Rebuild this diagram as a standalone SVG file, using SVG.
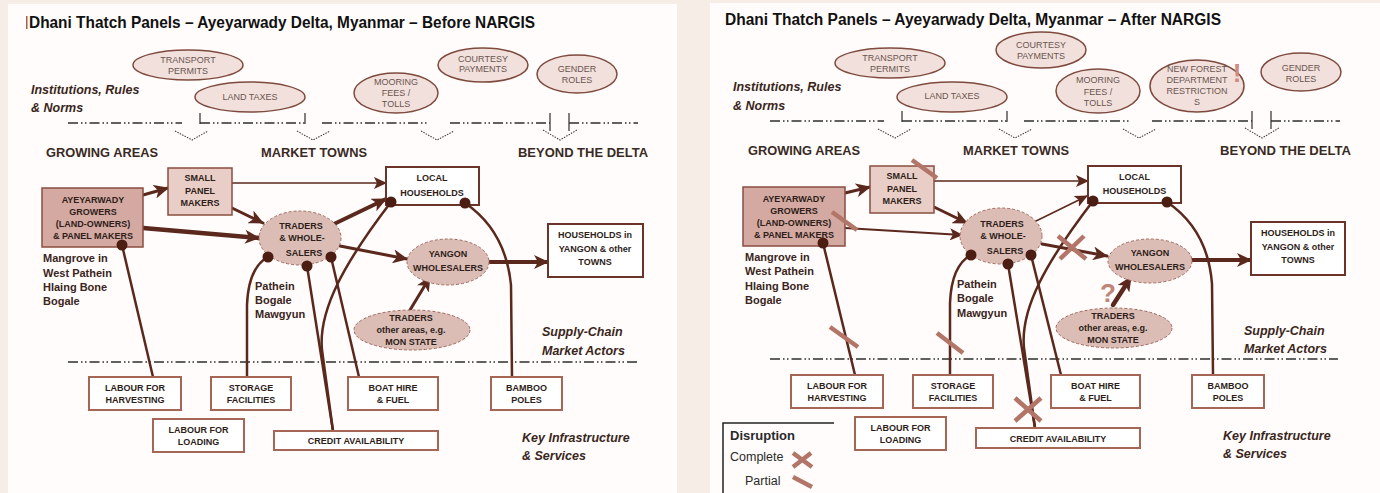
<svg xmlns="http://www.w3.org/2000/svg" width="1380" height="493" viewBox="0 0 1380 493">
<defs>
<style>
text{font-family:"Liberation Sans",Arial,sans-serif}
.ti{font-weight:bold;fill:#111}
.nt{font-size:9px;font-weight:bold;fill:#2e1d18;text-anchor:middle}
.it{font-size:9px;fill:#6a5650;text-anchor:middle}
.hd{font-size:12.5px;font-weight:bold;fill:#3a2a24}
.lb{font-size:12.5px;font-weight:bold;font-style:italic;fill:#3a2620}
.pl{font-size:11px;font-weight:bold;fill:#3a2520}
.ln{stroke:#5a281c;fill:none;stroke-linecap:round}
.dd{stroke:#2e2e2e;stroke-width:1.3;fill:none;stroke-dasharray:10 3 1.5 2.5 1.5 3}
.vt{stroke:#2e2e2e;stroke-width:1.2;fill:none}
.vh{stroke:#444;stroke-width:1.1;fill:none;stroke-dasharray:1.5 1.2}
.bx{fill:#fff;stroke:#a56656;stroke-width:2}
.bk{fill:#fff;stroke:#6b3428;stroke-width:2}
.ie{fill:#f2e0dc;stroke:#7e4a3e;stroke-width:1.5}
.de{fill:#dcbdb6;stroke:#a0695d;stroke-width:1;stroke-dasharray:3 2}
.dot{fill:#4b1d13}
.dm{stroke:#b27567;stroke-width:4.5;fill:none}
</style>
<marker id="ah" markerUnits="userSpaceOnUse" markerWidth="16" markerHeight="14" refX="14" refY="7" orient="auto"><path d="M0,0 L15,7 L0,14 L4,7 z" fill="#5a281c"/></marker>
<marker id="ahs" markerUnits="userSpaceOnUse" markerWidth="14" markerHeight="12" refX="12" refY="6" orient="auto"><path d="M0,0 L13,6 L0,12 L3,6 z" fill="#5a281c"/></marker>
</defs>
<rect x="0" y="0" width="1380" height="493" fill="#f6ede6"/>
<rect x="8" y="4" width="669" height="489" fill="#fffcfb"/>
<rect x="710" y="3" width="670" height="490" fill="#fffcfb"/>

<!-- LEFT PANEL -->
<g id="L-title">
<rect x="26" y="16" width="1.5" height="13" fill="#a0604f"/>
<text class="ti" x="29" y="28" font-size="17" textLength="506" lengthAdjust="spacingAndGlyphs">Dhani Thatch Panels – Ayeyarwady Delta, Myanmar – Before NARGIS</text>
</g>
<g id="L-labels">
<text class="lb" x="31" y="94">Institutions, Rules</text>
<text class="lb" x="31" y="112">&amp; Norms</text>
<text class="hd" x="46" y="157" textLength="112" lengthAdjust="spacingAndGlyphs">GROWING AREAS</text>
<text class="hd" x="261" y="157" textLength="106" lengthAdjust="spacingAndGlyphs">MARKET TOWNS</text>
<text class="hd" x="518" y="157" textLength="130" lengthAdjust="spacingAndGlyphs">BEYOND THE DELTA</text>
<text class="pl" x="43" y="262">Mangrove in</text>
<text class="pl" x="43" y="277">West Pathein</text>
<text class="pl" x="43" y="291">Hlaing Bone</text>
<text class="pl" x="43" y="305">Bogale</text>
<text class="pl" x="255" y="290">Pathein</text>
<text class="pl" x="255" y="304">Bogale</text>
<text class="pl" x="255" y="318">Mawgyun</text>
<text class="lb" x="542" y="336">Supply-Chain</text>
<text class="lb" x="542" y="355">Market Actors</text>
<text class="lb" x="522" y="442">Key Infrastructure</text>
<text class="lb" x="522" y="460">&amp; Services</text>
</g>
<g id="L-dividers">
<path class="dd" d="M68,123 H182 M200,123 H305 M322,123 H427 M450,123 H550 M569,123 H638"/>
<path class="vt" d="M200,113 V124 M305,113 V124 M550,113 V131 M569,113 V131"/>
<path class="vh" d="M175,131 L192,140 L208,131 M297,131 L313,140 L330,131 M421,131 L437,140 L454,131 M543,130 L560,140 L577,130"/>
<path class="dd" d="M68,362 H638"/>
</g>
<g id="L-transport"><ellipse class="ie" cx="188" cy="65" rx="55" ry="15"/><text class="it" x="188" y="63">TRANSPORT</text><text class="it" x="188" y="74">PERMITS</text></g>
<g id="L-landtaxes"><ellipse class="ie" cx="250" cy="97" rx="55" ry="15"/><text class="it" x="250" y="100">LAND TAXES</text></g>
<g id="L-mooring"><ellipse class="ie" cx="396" cy="93" rx="42" ry="20"/><text class="it" x="396" y="85">MOORING</text><text class="it" x="396" y="96">FEES /</text><text class="it" x="396" y="107">TOLLS</text></g>
<g id="L-courtesy"><ellipse class="ie" cx="483" cy="65" rx="45" ry="17"/><text class="it" x="483" y="62">COURTESY</text><text class="it" x="483" y="72">PAYMENTS</text></g>
<g id="L-gender"><ellipse class="ie" cx="577" cy="74" rx="40" ry="19"/><text class="it" x="577" y="72">GENDER</text><text class="it" x="577" y="83">ROLES</text></g>

<g id="L-connectors">
<path class="ln" stroke-width="3" d="M143,195 L168,188" marker-end="url(#ah)"/>
<path class="ln" stroke-width="4.5" d="M143,228 L259,238" marker-end="url(#ah)"/>
<path class="ln" stroke-width="3" d="M232,208 L263,223" marker-end="url(#ah)"/>
<path class="ln" stroke-width="1.3" d="M232,183 L386,183" marker-end="url(#ahs)"/>
<path class="ln" stroke-width="4" d="M334,224 L386,199" marker-end="url(#ah)"/>
<path class="ln" stroke-width="3" d="M340,246 L407,259" marker-end="url(#ah)"/>
<path class="ln" stroke-width="4" d="M490,262 L548,262" marker-end="url(#ah)"/>
<path class="ln" stroke-width="3" d="M410,310 L430,277" marker-end="url(#ah)"/>
<path class="ln" stroke-width="2.5" d="M122,245 L153,377"/>
<path class="ln" stroke-width="2.5" d="M268,257 C255,264 248,280 247,305 L247,377"/>
<path class="ln" stroke-width="2.5" d="M307,266 L333,431"/>
<path class="ln" stroke-width="2.5" d="M391,202 C345,262 318,310 322,350 L333,431"/>
<path class="ln" stroke-width="2.5" d="M331,257 L359,377"/>
<path class="ln" stroke-width="2.5" d="M465,203 C490,220 507,245 511,285 L512,377"/>
</g>

<g id="L-growers"><rect x="42" y="188" width="101" height="59" fill="#d3a9a1" stroke="#8a4e40" stroke-width="1.5"/>
<text class="nt" x="93" y="203">AYEYARWADY</text><text class="nt" x="93" y="215">GROWERS</text><text class="nt" x="93" y="227">(LAND-OWNERS)</text><text class="nt" x="93" y="239">&amp; PANEL MAKERS</text></g>
<g id="L-smallpanel"><rect x="168" y="168" width="64" height="47" fill="#e9cdc7" stroke="#8a4e40" stroke-width="1.5"/>
<text class="nt" x="200" y="181">SMALL</text><text class="nt" x="200" y="194">PANEL</text><text class="nt" x="200" y="206">MAKERS</text></g>
<g id="L-traders"><ellipse class="de" cx="300" cy="238" rx="41" ry="27"/>
<text class="nt" x="301" y="229">TRADERS</text><text class="nt" x="302" y="241">&amp; WHOLE-</text><text class="nt" x="304" y="256">SALERS</text></g>
<g id="L-localhh"><rect class="bk" x="386" y="167" width="93" height="38"/>
<text class="nt" x="432" y="181">LOCAL</text><text class="nt" x="432" y="196">HOUSEHOLDS</text></g>
<g id="L-yangon"><ellipse class="de" cx="448" cy="262" rx="41" ry="23"/>
<text class="nt" x="448" y="257">YANGON</text><text class="nt" x="448" y="271">WHOLESALERS</text></g>
<g id="L-hhyangon"><rect class="bk" x="548" y="224" width="95" height="53"/>
<text class="nt" x="595" y="238">HOUSEHOLDS in</text><text class="nt" x="595" y="252">YANGON &amp; other</text><text class="nt" x="595" y="265">TOWNS</text></g>
<g id="L-tradersother"><ellipse class="de" cx="412" cy="330" rx="58" ry="20" fill="#e0c4be"/>
<text class="nt" x="411" y="321">TRADERS</text><text class="nt" x="411" y="333">other areas, e.g.</text><text class="nt" x="411" y="345">MON STATE</text></g>
<g id="L-dots">
<circle class="dot" cx="122" cy="245" r="5.5"/><circle class="dot" cx="268" cy="257" r="5.5"/><circle class="dot" cx="307" cy="266" r="5.5"/><circle class="dot" cx="331" cy="257" r="5.5"/><circle class="dot" cx="391" cy="202" r="5.5"/><circle class="dot" cx="465" cy="203" r="5.5"/>
</g>
<g id="L-harvest"><rect class="bx" x="89" y="377" width="92" height="33"/><text class="nt" x="135" y="391">LABOUR FOR</text><text class="nt" x="135" y="403">HARVESTING</text></g>
<g id="L-storage"><rect class="bx" x="211" y="377" width="80" height="33"/><text class="nt" x="251" y="391">STORAGE</text><text class="nt" x="251" y="403">FACILITIES</text></g>
<g id="L-loading"><rect class="bx" x="153" y="419" width="91" height="33"/><text class="nt" x="198.5" y="433">LABOUR FOR</text><text class="nt" x="198.5" y="445">LOADING</text></g>
<g id="L-credit"><rect class="bx" x="274" y="431" width="164" height="19"/><text class="nt" x="356" y="444">CREDIT AVAILABILITY</text></g>
<g id="L-boat"><rect class="bx" x="348" y="377" width="90" height="33"/><text class="nt" x="393" y="391">BOAT HIRE</text><text class="nt" x="393" y="403">&amp; FUEL</text></g>
<g id="L-bamboo"><rect class="bx" x="491" y="377" width="71" height="33"/><text class="nt" x="526.5" y="391">BAMBOO</text><text class="nt" x="526.5" y="403">POLES</text></g>

<!-- RIGHT PANEL -->
<g id="R-title">
<text class="ti" x="725" y="25" font-size="16" textLength="496" lengthAdjust="spacingAndGlyphs">Dhani Thatch Panels – Ayeyarwady Delta, Myanmar – After NARGIS</text>
</g>
<g id="R-labels">
<text class="lb" x="733" y="91">Institutions, Rules</text>
<text class="lb" x="733" y="110">&amp; Norms</text>
<text class="hd" x="748" y="155" textLength="112" lengthAdjust="spacingAndGlyphs">GROWING AREAS</text>
<text class="hd" x="963" y="155" textLength="106" lengthAdjust="spacingAndGlyphs">MARKET TOWNS</text>
<text class="hd" x="1220" y="155" textLength="131" lengthAdjust="spacingAndGlyphs">BEYOND THE DELTA</text>
<text class="pl" x="745" y="261">Mangrove in</text>
<text class="pl" x="745" y="275">West Pathein</text>
<text class="pl" x="745" y="290">Hlaing Bone</text>
<text class="pl" x="745" y="304">Bogale</text>
<text class="pl" x="957" y="288">Pathein</text>
<text class="pl" x="957" y="302">Bogale</text>
<text class="pl" x="957" y="317">Mawgyun</text>
<text class="lb" x="1244" y="335">Supply-Chain</text>
<text class="lb" x="1244" y="353">Market Actors</text>
<text class="lb" x="1223" y="440">Key Infrastructure</text>
<text class="lb" x="1223" y="458">&amp; Services</text>
</g>
<g id="R-dividers">
<path class="dd" d="M770,121 H884 M902,121 H1007 M1024,121 H1129 M1152,121 H1252 M1271,121 H1340"/>
<path class="vt" d="M902,111 V122 M1007,111 V122 M1252,111 V129 M1271,111 V129"/>
<path class="vh" d="M878,129 L895,138 L911,129 M999,129 L1015,138 L1032,129 M1123,129 L1139,138 L1156,129 M1245,128 L1262,138 L1279,128"/>
<path class="dd" d="M770,359 H1338"/>
</g>
<g id="R-transport"><ellipse class="ie" cx="890" cy="63" rx="55" ry="15"/><text class="it" x="890" y="61">TRANSPORT</text><text class="it" x="890" y="72">PERMITS</text></g>
<g id="R-landtaxes"><ellipse class="ie" cx="952" cy="97" rx="55" ry="15"/><text class="it" x="952" y="99">LAND TAXES</text></g>
<g id="R-courtesy"><ellipse class="ie" cx="1041" cy="50" rx="45" ry="18"/><text class="it" x="1041" y="48">COURTESY</text><text class="it" x="1041" y="59">PAYMENTS</text></g>
<g id="R-mooring"><ellipse class="ie" cx="1098" cy="91" rx="42" ry="22"/><text class="it" x="1098" y="83">MOORING</text><text class="it" x="1098" y="95">FEES /</text><text class="it" x="1098" y="106">TOLLS</text></g>
<g id="R-forest"><ellipse class="ie" cx="1197" cy="86" rx="47" ry="26"/><text class="it" x="1197" y="72">NEW FOREST</text><text class="it" x="1197" y="83">DEPARTMENT</text><text class="it" x="1197" y="94">RESTRICTION</text><text class="it" x="1197" y="105">S</text>
<text x="1237" y="82" font-size="26" font-weight="bold" fill="#d08a80" text-anchor="middle">!</text></g>
<g id="R-gender"><ellipse class="ie" cx="1301" cy="72" rx="40" ry="19"/><text class="it" x="1301" y="71">GENDER</text><text class="it" x="1301" y="82">ROLES</text></g>

<g id="R-connectors">
<path class="ln" stroke-width="3" d="M845,193 L870,187" marker-end="url(#ah)"/>
<path class="ln" stroke-width="2" d="M845,228 L962,235" marker-end="url(#ahs)"/>
<path class="ln" stroke-width="3" d="M934,207 L967,223" marker-end="url(#ah)"/>
<path class="ln" stroke-width="1.3" d="M934,181 L1088,181" marker-end="url(#ahs)"/>
<path class="ln" stroke-width="1.5" d="M1034,222 L1087,196" marker-end="url(#ahs)"/>
<path class="ln" stroke-width="3" d="M1042,244 L1107,256" marker-end="url(#ah)"/>
<path class="ln" stroke-width="4" d="M1192,260 L1251,260" marker-end="url(#ah)"/>
<path class="ln" stroke-width="4.5" d="M1113,305 L1131,277" marker-end="url(#ah)"/>
<path class="ln" stroke-width="2.5" d="M823,243 L855,375"/>
<path class="ln" stroke-width="2.5" d="M971,255 C958,262 951,278 950,303 L950,375"/>
<path class="ln" stroke-width="2.5" d="M1008,264 L1035,428"/>
<path class="ln" stroke-width="2.5" d="M1093,201 C1047,261 1020,308 1024,348 L1035,428"/>
<path class="ln" stroke-width="2.5" d="M1031,255 L1061,375"/>
<path class="ln" stroke-width="2.5" d="M1167,202 C1192,219 1209,244 1212,284 L1213,375"/>
</g>

<g id="R-growers"><rect x="743" y="187" width="102" height="59" fill="#d3a9a1" stroke="#8a4e40" stroke-width="1.5"/>
<text class="nt" x="794" y="202">AYEYARWADY</text><text class="nt" x="794" y="214">GROWERS</text><text class="nt" x="794" y="226">(LAND-OWNERS)</text><text class="nt" x="794" y="238">&amp; PANEL MAKERS</text></g>
<g id="R-smallpanel"><rect x="870" y="166" width="64" height="47" fill="#e9cdc7" stroke="#8a4e40" stroke-width="1.5"/>
<text class="nt" x="902" y="179">SMALL</text><text class="nt" x="902" y="192">PANEL</text><text class="nt" x="902" y="204">MAKERS</text></g>
<g id="R-traders"><ellipse class="de" cx="1001" cy="236" rx="41" ry="28"/>
<text class="nt" x="1002" y="227">TRADERS</text><text class="nt" x="1003" y="239">&amp; WHOLE-</text><text class="nt" x="1005" y="254">SALERS</text></g>
<g id="R-localhh"><rect class="bk" x="1088" y="166" width="93" height="37"/>
<text class="nt" x="1134.5" y="180">LOCAL</text><text class="nt" x="1134.5" y="194">HOUSEHOLDS</text></g>
<g id="R-yangon"><ellipse class="de" cx="1150" cy="261" rx="42" ry="22"/>
<text class="nt" x="1150" y="256">YANGON</text><text class="nt" x="1150" y="270">WHOLESALERS</text></g>
<g id="R-hhyangon"><rect class="bk" x="1251" y="222" width="94" height="53"/>
<text class="nt" x="1298" y="236">HOUSEHOLDS in</text><text class="nt" x="1298" y="250">YANGON &amp; other</text><text class="nt" x="1298" y="263">TOWNS</text></g>
<g id="R-tradersother"><ellipse class="de" cx="1114" cy="328" rx="58" ry="20" fill="#e0c4be"/>
<text class="nt" x="1113" y="319">TRADERS</text><text class="nt" x="1113" y="331">other areas, e.g.</text><text class="nt" x="1113" y="343">MON STATE</text></g>
<g id="R-dots">
<circle class="dot" cx="823" cy="243" r="5.5"/><circle class="dot" cx="971" cy="255" r="5.5"/><circle class="dot" cx="1008" cy="264" r="5.5"/><circle class="dot" cx="1031" cy="255" r="5.5"/><circle class="dot" cx="1093" cy="201" r="5.5"/><circle class="dot" cx="1167" cy="202" r="5.5"/>
</g>
<g id="R-harvest"><rect class="bx" x="791" y="375" width="92" height="33"/><text class="nt" x="837" y="389">LABOUR FOR</text><text class="nt" x="837" y="401">HARVESTING</text></g>
<g id="R-storage"><rect class="bx" x="913" y="375" width="80" height="33"/><text class="nt" x="953" y="389">STORAGE</text><text class="nt" x="953" y="401">FACILITIES</text></g>
<g id="R-loading"><rect class="bx" x="855" y="417" width="91" height="33"/><text class="nt" x="900.5" y="431">LABOUR FOR</text><text class="nt" x="900.5" y="443">LOADING</text></g>
<g id="R-credit"><rect class="bx" x="976" y="428" width="164" height="20"/><text class="nt" x="1058" y="442">CREDIT AVAILABILITY</text></g>
<g id="R-boat"><rect class="bx" x="1051" y="375" width="89" height="33"/><text class="nt" x="1095.5" y="389">BOAT HIRE</text><text class="nt" x="1095.5" y="401">&amp; FUEL</text></g>
<g id="R-bamboo"><rect class="bx" x="1192" y="375" width="72" height="33"/><text class="nt" x="1228" y="389">BAMBOO</text><text class="nt" x="1228" y="401">POLES</text></g>

<g id="R-disruptions">
<path class="dm" d="M912,160 L937,178"/>
<path class="dm" d="M832,212 L857,230"/>
<path class="dm" d="M1058,236 L1086,259 M1060,259 L1084,236"/>
<text x="1108" y="302" font-size="26" font-weight="bold" fill="#c08478" text-anchor="middle">?</text>
<path class="dm" d="M830,327 L858,347"/>
<path class="dm" d="M937,333 L963,353"/>
<path class="dm" d="M1015,398 L1041,421 M1015,421 L1041,398"/>
</g>

<g id="R-legend">
<path d="M834,423 H723 V493" fill="none" stroke="#222" stroke-width="1.5"/>
<text x="730" y="440" font-size="13" font-weight="bold" fill="#2a2a2a">Disruption</text>
<text x="730" y="461" font-size="12.5" fill="#2a2a2a">Complete</text>
<path class="dm" d="M793,453 L812,467 M793,467 L811,453"/>
<text x="745" y="485" font-size="12.5" fill="#2a2a2a">Partial</text>
<path class="dm" d="M793,477 L812,487"/>
</g>
</svg>
